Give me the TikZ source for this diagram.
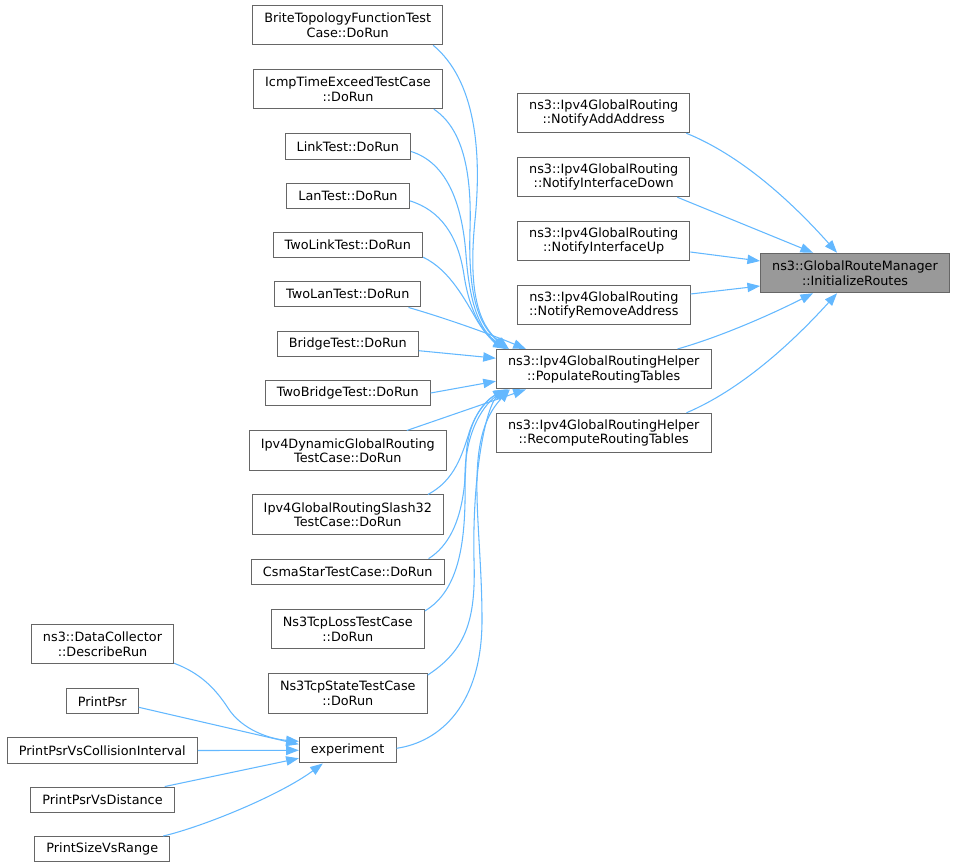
\documentclass[tikz,border=0pt]{standalone}
\usepackage{fontspec}
\setmainfont{DejaVu Sans}
\usepackage{tikz}
\usetikzlibrary{calc,arrows.meta}
\definecolor{callblue}{HTML}{63B8FF}
\definecolor{boxgray}{HTML}{666666}
\definecolor{focusgray}{HTML}{999999}

\begin{document}
\begin{tikzpicture}[x=0.75pt, y=-0.75pt,
        font=\fontsize{9.6}{11}\selectfont,
        fn/.style={draw=boxgray, line width=0.75pt, fill=white, align=center,
            inner xsep=8.7pt, inner ysep=0pt, minimum height=19pt},
        two/.style={minimum height=29.6pt},
        call/.style={callblue, line width=0.8pt, ->, >={Triangle[length=9.5pt,width=7pt]}}]
        \useasboundingbox (0,0) rectangle (956,867);

        % callee
        \node[fn, two, fill=focusgray] (init) at (855,273) {ns3::GlobalRouteManager\\::InitializeRoutes};

        % direct callers
        \node[fn, two] (naa) at (603.7,113) {ns3::Ipv4GlobalRouting\\::NotifyAddAddress};
        \node[fn, two] (nid) at (603.7,177) {ns3::Ipv4GlobalRouting\\::NotifyInterfaceDown};
        \node[fn, two] (niu) at (603.7,241) {ns3::Ipv4GlobalRouting\\::NotifyInterfaceUp};
        \node[fn, two] (nra) at (603.8,305) {ns3::Ipv4GlobalRouting\\::NotifyRemoveAddress};
        \node[fn, two] (pop) at (603.7,369.2) {ns3::Ipv4GlobalRoutingHelper\\::PopulateRoutingTables};
        \node[fn, two] (rrt) at (603.7,433) {ns3::Ipv4GlobalRoutingHelper\\::RecomputeRoutingTables};

        % test cases
        \node[fn, two] (brite) at (347.7,25) {BriteTopologyFunctionTest\\Case::DoRun};
        \node[fn, two] (icmp) at (348,89) {IcmpTimeExceedTestCase\\::DoRun};
        \node[fn] (linktest) at (347.8,146.5) {LinkTest::DoRun};
        \node[fn] (lantest) at (348,195.8) {LanTest::DoRun};
        \node[fn] (twolink) at (347.8,245) {TwoLinkTest::DoRun};
        \node[fn] (twolan) at (347.8,294.3) {TwoLanTest::DoRun};
        \node[fn] (bridge) at (347.8,343.7) {BridgeTest::DoRun};
        \node[fn] (twobridge) at (347.7,393) {TwoBridgeTest::DoRun};
        \node[fn, two] (dyn) at (347.8,450.7) {Ipv4DynamicGlobalRouting\\TestCase::DoRun};
        \node[fn, two] (slash) at (347.8,514.7) {Ipv4GlobalRoutingSlash32\\TestCase::DoRun};
        \node[fn] (csma) at (347.7,571.8) {CsmaStarTestCase::DoRun};
        \node[fn, two] (tcploss) at (347.8,629.2) {Ns3TcpLossTestCase\\::DoRun};
        \node[fn, two] (tcpstate) at (347.8,693.3) {Ns3TcpStateTestCase\\::DoRun};
        \node[fn] (exper) at (347.7,750.3) {experiment};

        % callers of experiment
        \node[fn, two] (dcoll) at (102.5,644) {ns3::DataCollector\\::DescribeRun};
        \node[fn] (psr) at (102.3,701.3) {PrintPsr};
        \node[fn] (psrci) at (102.3,750.5) {PrintPsrVsCollisionInterval};
        \node[fn] (psrd) at (102.5,799.7) {PrintPsrVsDistance};
        \node[fn] (sizer) at (102.3,849.2) {PrintSizeVsRange};

        % into InitializeRoutes
        \draw[call] ($(naa.south east)+(-4,0)$) .. controls (740,155) and (790,200) .. ($(init.north west)+(77,0)$);
        \draw[call] ($(nid.south east)+(-13,0)$) -- ($(init.north west)+(53,0)$);
        \draw[call] ($(niu.east)+(0,11)$) -- ($(init.west)+(0,-12)$);
        \draw[call] ($(nra.east)+(0,-11)$) -- ($(init.west)+(0,13)$);
        \draw[call] ($(pop.north east)+(-34,0)$) .. controls (720,337) and (770,315) .. ($(init.south west)+(53,0)$);
        \draw[call] ($(rrt.north east)+(-25,0)$) .. controls (740,390) and (790,345) .. ($(init.south west)+(77,0)$);

        % into PopulateRoutingTables
        \draw[call] ($(brite.south east)+(-10,0)$) .. controls (475,80) and (482,150) .. (475,220)
            .. controls (468,290) and (478,325) .. ($(pop.north west)+(13,0)$);
        \draw[call] ($(icmp.south east)+(-9,0)$) .. controls (462,128) and (472,170) .. (470,230)
            .. controls (468,295) and (478,325) .. ($(pop.north west)+(12,0)$);
        \draw[call] ($(linktest.east)+(0,5)$) .. controls (445,162) and (462,200) .. (466,255)
            .. controls (470,310) and (482,332) .. ($(pop.north west)+(11,0)$);
        \draw[call] ($(lantest.east)+(0,5)$) .. controls (440,210) and (458,235) .. (464,275)
            .. controls (470,315) and (485,335) .. ($(pop.north west)+(10,0)$);
        \draw[call] ($(twolink.south east)+(0,-1)$) .. controls (450,270) and (465,300) .. (478,322)
            .. controls (486,335) and (495,343) .. ($(pop.north west)+(10,0)$);
        \draw[call] ($(twolan.south east)+(-13,0)$) .. controls (445,318) and (490,334) .. ($(pop.north west)+(30,0)$);
        \draw[call] ($(bridge.east)+(0,7)$) -- ($(pop.west)+(0,-11)$);
        \draw[call] (twobridge.east) -- ($(pop.west)+(0,12)$);
        \draw[call] ($(dyn.north east)+(-40,0)$) -- ($(pop.south west)+(30,0)$);
        \draw[call] ($(slash.north east)+(-16,0)$) .. controls (455,480) and (462,455) .. (470,430)
            .. controls (478,408) and (490,398) .. ($(pop.south west)+(10,0)$);
        \draw[call] ($(csma.north east)+(-16,0)$) .. controls (458,540) and (465,500) .. (466,460)
            .. controls (467,420) and (485,400) .. ($(pop.south west)+(11,0)$);
        \draw[call] ($(tcploss.north east)+(0,2)$) .. controls (460,590) and (466,540) .. (465,480)
            .. controls (464,430) and (486,402) .. ($(pop.south west)+(12,0)$);
        \draw[call] ($(tcpstate.north east)+(0,2)$) .. controls (466,650) and (476,620) .. (474,560)
            .. controls (472,470) and (487,402) .. ($(pop.south west)+(13,0)$);
        \draw[call] ($(exper.east)+(0,-2)$) .. controls (440,742) and (482,705) .. (482,620)
            .. controls (482,520) and (462,440) .. ($(pop.south west)+(14,0)$);

        % into experiment
        \draw[call] ($(dcoll.south east)+(0,-1)$) .. controls (200,673) and (215,688) .. (228,708)
            .. controls (242,730) and (270,739) .. ($(exper.west)+(0,-9)$);
        \draw[call] ($(psr.east)+(0,6)$) -- ($(exper.west)+(0,-6)$);
        \draw[call] (psrci.east) -- (exper.west);
        \draw[call] ($(psrd.north east)+(-10,0)$) -- ($(exper.west)+(0,8)$);
        \draw[call] ($(sizer.north east)+(-7,0)$) .. controls (205,826) and (280,795) .. ($(exper.south west)+(24,0)$);
    \end{tikzpicture}
\end{document}
